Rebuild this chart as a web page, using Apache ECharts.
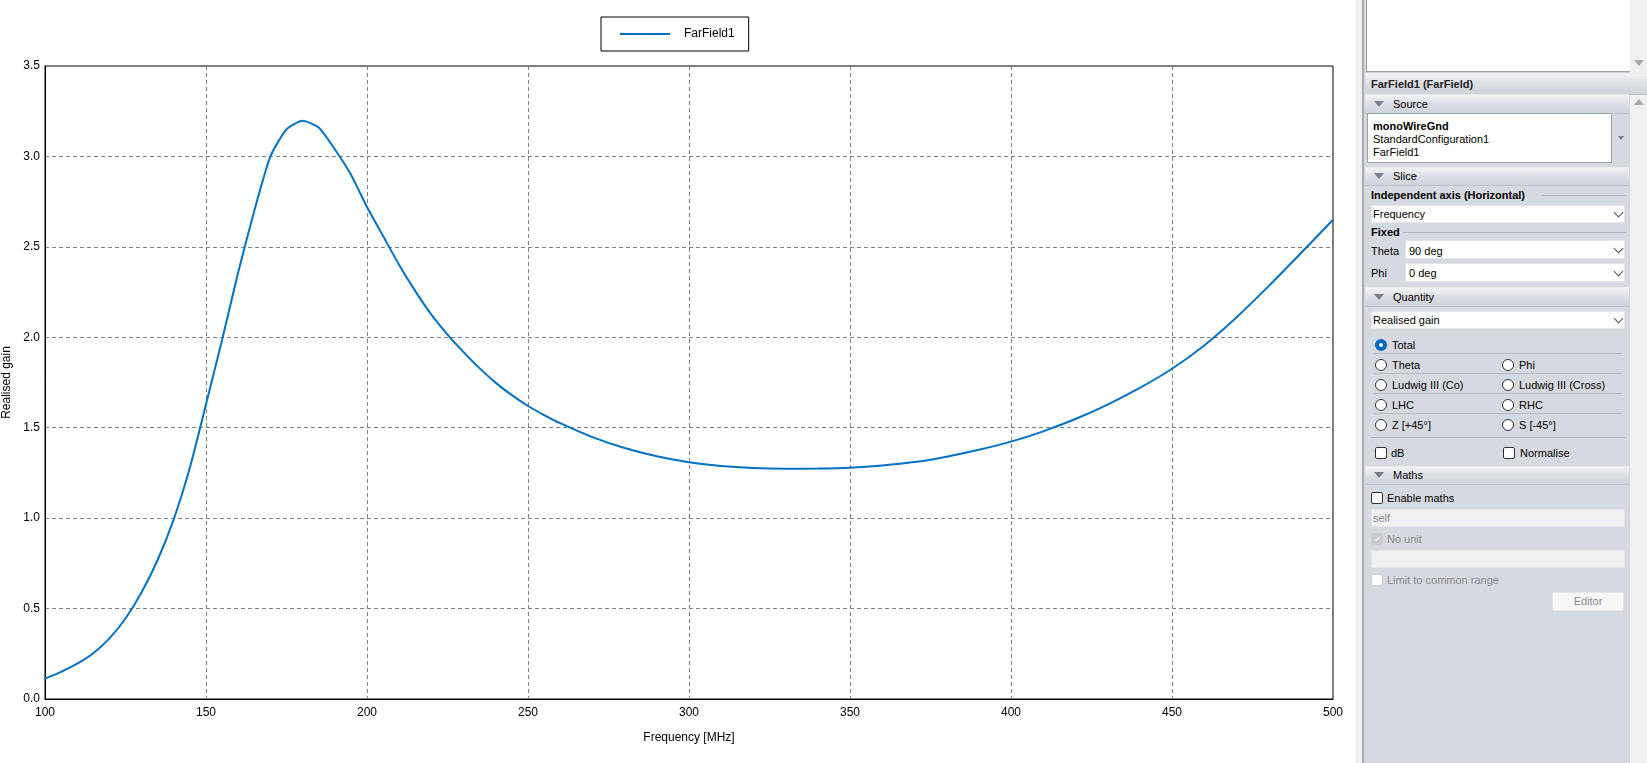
<!DOCTYPE html>
<html>
<head>
<meta charset="utf-8">
<script src="https://cdn.jsdelivr.net/npm/echarts@6/dist/echarts.min.js"></script>
<style>
  html, body { margin:0; padding:0; width:1647px; height:763px; overflow:hidden; background:#fff; font-family:"Liberation Sans", Arial, sans-serif; }
  #chart { position:absolute; left:0; top:0; width:1355px; height:763px; }
  .p { position:absolute; box-sizing:border-box; }
  .t { position:absolute; font-size:11px; color:#000; white-space:nowrap; line-height:14px; }
  .hdr { position:absolute; left:1365px; width:264px; background:linear-gradient(#f3f4f6,#dde0e6 45%,#cfd3da); border-top:1px solid #e9ebef; border-bottom:1px solid #bfc4cc; }
  .tri { position:absolute; width:0; height:0; border-left:5px solid transparent; border-right:5px solid transparent; border-top:6px solid #7a7f88; }
  .dd { position:absolute; background:#fff; border:1px solid #e3e5ea; box-sizing:border-box; }
  .chev { position:absolute; width:6px; height:6px; border-right:1px solid #555; border-bottom:1px solid #555; transform:rotate(45deg); }
  .radio { position:absolute; width:12px; height:12px; border:1px solid #333; border-radius:50%; background:#fff; box-sizing:border-box; }
  .cb { position:absolute; width:12px; height:12px; border:1px solid #333; border-radius:2px; background:#fff; box-sizing:border-box; }
  .sep { position:absolute; height:1px; background:#b4b8bf; }
</style>
</head>
<body>
<div id="chart"></div>

<!-- side panel -->
<div class="p" style="left:1355px;top:0;width:292px;height:763px;background:#f0f0f0;"></div>
<div class="p" style="left:1362px;top:0;width:2px;height:763px;background:#a9abb0;"></div>
<div class="p" style="left:1364px;top:0;width:266px;height:763px;background:#d6d9e0;"></div>
<div class="p" style="left:1366px;top:0;width:264px;height:72px;background:#fff;border-left:1px solid #a0a0a0;border-bottom:1px solid #a0a0a0;"></div>
<div class="p" style="left:1630px;top:0;width:17px;height:763px;background:#f0f0f0;"></div>
<div class="tri" style="left:1634px;top:60px;border-top-color:#a8a8a8;"></div>
<div class="tri" style="left:1634px;top:99px;border-top:none;border-bottom:6px solid #a8a8a8;"></div>

<div class="hdr" style="top:73px;height:20px;width:282px;"></div>
<div class="t" style="left:1371px;top:77px;font-weight:bold;color:#222;">FarField1 (FarField)</div>

<div class="hdr" style="top:94px;height:18px;"></div>
<div class="tri" style="left:1374px;top:101px;"></div>
<div class="t" style="left:1393px;top:97px;">Source</div>
<div class="p" style="left:1367px;top:113px;width:245px;height:50px;background:#fff;border:1px solid #9ea2a8;"></div>
<div class="t" style="left:1373px;top:119px;font-weight:bold;">monoWireGnd</div>
<div class="t" style="left:1373px;top:132px;">StandardConfiguration1</div>
<div class="t" style="left:1373px;top:145px;">FarField1</div>
<div class="tri" style="left:1618px;top:136px;border-left-width:3px;border-right-width:3px;border-top-width:4px;"></div>

<div class="hdr" style="top:167px;height:17px;"></div>
<div class="tri" style="left:1374px;top:173px;"></div>
<div class="t" style="left:1393px;top:169px;">Slice</div>

<div class="t" style="left:1371px;top:188px;font-weight:bold;">Independent axis (Horizontal)</div>
<div class="sep" style="left:1542px;top:195px;width:84px;"></div>
<div class="dd" style="left:1371px;top:205px;width:254px;height:18px;"></div>
<div class="t" style="left:1373px;top:207px;">Frequency</div>
<div class="chev" style="left:1615px;top:209px;"></div>

<div class="t" style="left:1371px;top:225px;font-weight:bold;">Fixed</div>
<div class="sep" style="left:1403px;top:232px;width:223px;"></div>
<div class="t" style="left:1371px;top:244px;">Theta</div>
<div class="dd" style="left:1405px;top:240px;width:220px;height:19px;"></div>
<div class="t" style="left:1409px;top:244px;">90 deg</div>
<div class="chev" style="left:1615px;top:245px;"></div>
<div class="t" style="left:1371px;top:266px;">Phi</div>
<div class="dd" style="left:1405px;top:263px;width:220px;height:19px;"></div>
<div class="t" style="left:1409px;top:266px;">0 deg</div>
<div class="chev" style="left:1615px;top:268px;"></div>

<div class="hdr" style="top:287px;height:18px;"></div>
<div class="tri" style="left:1374px;top:294px;"></div>
<div class="t" style="left:1393px;top:290px;">Quantity</div>
<div class="dd" style="left:1371px;top:311px;width:254px;height:18px;"></div>
<div class="t" style="left:1373px;top:313px;">Realised gain</div>
<div class="chev" style="left:1615px;top:315px;"></div>

<div class="radio" style="left:1375px;top:339px;border:4px solid #0067c0;"></div>
<div class="t" style="left:1392px;top:338px;">Total</div>
<div class="sep" style="left:1374px;top:353px;width:248px;"></div>
<div class="radio" style="left:1375px;top:359px;"></div>
<div class="t" style="left:1392px;top:358px;">Theta</div>
<div class="radio" style="left:1502px;top:359px;"></div>
<div class="t" style="left:1519px;top:358px;">Phi</div>
<div class="sep" style="left:1374px;top:373px;width:248px;"></div>
<div class="radio" style="left:1375px;top:379px;"></div>
<div class="t" style="left:1392px;top:378px;">Ludwig III (Co)</div>
<div class="radio" style="left:1502px;top:379px;"></div>
<div class="t" style="left:1519px;top:378px;">Ludwig III (Cross)</div>
<div class="sep" style="left:1374px;top:393px;width:248px;"></div>
<div class="radio" style="left:1375px;top:399px;"></div>
<div class="t" style="left:1392px;top:398px;">LHC</div>
<div class="radio" style="left:1502px;top:399px;"></div>
<div class="t" style="left:1519px;top:398px;">RHC</div>
<div class="sep" style="left:1374px;top:413px;width:248px;"></div>
<div class="radio" style="left:1375px;top:419px;"></div>
<div class="t" style="left:1392px;top:418px;">Z [+45°]</div>
<div class="radio" style="left:1502px;top:419px;"></div>
<div class="t" style="left:1519px;top:418px;">S [-45°]</div>
<div class="sep" style="left:1371px;top:437px;width:255px;"></div>
<div class="cb" style="left:1375px;top:447px;"></div>
<div class="t" style="left:1391px;top:446px;">dB</div>
<div class="cb" style="left:1503px;top:447px;"></div>
<div class="t" style="left:1520px;top:446px;">Normalise</div>

<div class="hdr" style="top:466px;height:17px;"></div>
<div class="tri" style="left:1374px;top:472px;"></div>
<div class="t" style="left:1393px;top:468px;">Maths</div>
<div class="cb" style="left:1371px;top:492px;"></div>
<div class="t" style="left:1387px;top:491px;">Enable maths</div>
<div class="p" style="left:1371px;top:509px;width:254px;height:18px;background:#f0f0f0;border:1px solid #e3e5ea;"></div>
<div class="t" style="left:1373px;top:511px;color:#8a8a8a;">self</div>
<div class="cb" style="left:1371px;top:533px;background:#c8cbd0;border-color:#c8cbd0;"></div>
<div class="t" style="left:1374px;top:532px;color:#fff;font-size:9px;">&#10003;</div>
<div class="t" style="left:1387px;top:532px;color:#8a8a8a;">No unit</div>
<div class="p" style="left:1371px;top:550px;width:254px;height:18px;background:#f0f0f0;border:1px solid #e3e5ea;"></div>
<div class="cb" style="left:1371px;top:574px;border-color:#c8cbd0;background:#fff;"></div>
<div class="t" style="left:1387px;top:573px;color:#8a8a8a;">Limit to common range</div>
<div class="p" style="left:1552px;top:592px;width:72px;height:19px;background:#f7f7f7;border:1px solid #e6e6e6;border-radius:2px;"></div>
<div class="t" style="left:1552px;top:594px;width:72px;text-align:center;color:#8a8a8a;">Editor</div>

<script>
// ---- data ----
const seriesName = "FarField1";
const xAxisName = "Frequency [MHz]";
const yAxisName = "Realised gain";
const frequency = [100,105,110,115,120,125,130,135,140,145,150,155,160,165,170,175,180,185,190,195,
                   200,205,210,215,220,225,230,235,240,245,250,255,260,270,280,290,300,310,320,330,
                   340,350,360,370,380,390,400,410,420,430,440,450,460,470,480,490,500];
const gain = [0.113,0.150,0.195,0.253,0.335,0.445,0.590,0.770,0.995,1.280,1.630,1.985,2.360,2.700,3.000,3.150,3.197,3.160,3.040,2.900,
              2.720,2.560,2.400,2.255,2.125,2.015,1.918,1.828,1.748,1.680,1.620,1.570,1.525,1.448,1.388,1.342,1.309,1.288,1.277,1.273,
              1.274,1.279,1.291,1.310,1.340,1.378,1.423,1.480,1.548,1.628,1.720,1.826,1.955,2.110,2.283,2.465,2.650];
const xMin = 100, xMax = 500, xStep = 50;
const yMin = 0, yMax = 3.5, yStep = 0.5;

const chart = echarts.init(document.getElementById('chart'), null, {renderer:'canvas'});
const font = '"Liberation Sans", Arial, sans-serif';
chart.setOption({
  animation: false,
  backgroundColor: '#fff',
  textStyle: { fontFamily: font },
  legend: {
    left: 601, top: 17,
    padding: [11, 14, 11, 19],
    borderColor: '#000', borderWidth: 1,
    icon: 'rect', itemWidth: 50, itemHeight: 2,
    textStyle: { fontSize: 12, color: '#000', fontFamily: font, padding: [0,0,0,9] },
    data: [seriesName]
  },
  grid: { left: 45, top: 66, right: 22, bottom: 64, show: true, borderColor: '#000', borderWidth: 1,
          containLabel: false, outerBoundsMode: 'none' },
  xAxis: {
    type: 'value', min: xMin, max: xMax, interval: xStep,
    name: xAxisName, nameLocation: 'middle', nameGap: 33,
    nameTextStyle: { fontSize: 12, color: '#000', fontFamily: font },
    axisLine: { show: true, lineStyle: { color: '#000', width: 1 } },
    axisTick: { show: false },
    axisLabel: { fontSize: 12, color: '#000', margin: 8, fontFamily: font },
    splitLine: { show: true, lineStyle: { color: '#808080', type: [4, 3], width: 1 } }
  },
  yAxis: {
    type: 'value', min: yMin, max: yMax, interval: yStep,
    name: yAxisName, nameLocation: 'middle', nameGap: 30, nameRotate: 90,
    nameTextStyle: { fontSize: 12, color: '#000', fontFamily: font },
    axisLine: { show: true, lineStyle: { color: '#000', width: 1 } },
    axisTick: { show: false },
    axisLabel: { fontSize: 12, color: '#000', margin: 5, fontFamily: font, formatter: v => v.toFixed(1) },
    splitLine: { show: true, lineStyle: { color: '#808080', type: [4, 3], width: 1 } }
  },
  series: [{
    name: seriesName, type: 'line', showSymbol: false, symbol: 'none', smooth: 0.2,
    data: frequency.map((f, i) => [f, gain[i]]),
    lineStyle: { color: '#0072C6', width: 2 },
    itemStyle: { color: '#0072C6' }
  }]
});
</script>
</body>
</html>
